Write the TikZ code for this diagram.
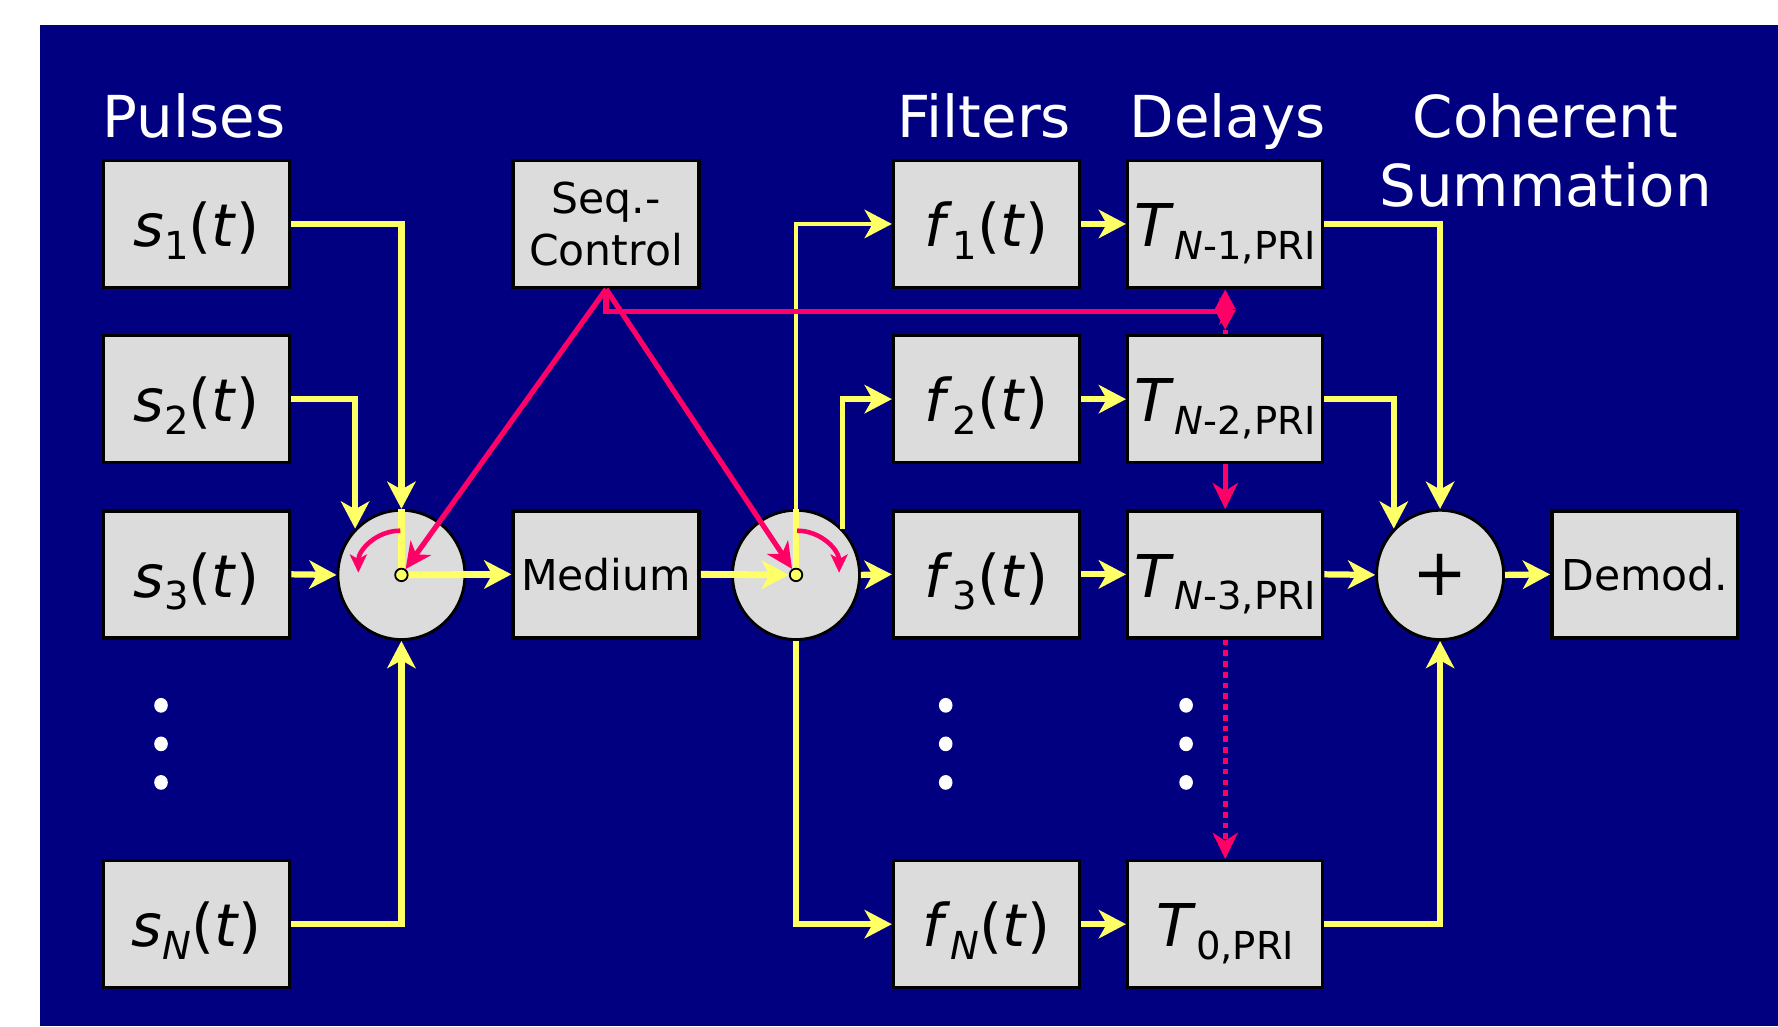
\documentclass[tikz,border=0pt]{standalone}
\usepackage{fontspec}
\setmainfont{DejaVu Sans}[ItalicFont={DejaVu Sans Oblique}]
\usetikzlibrary{arrows.meta,shapes.geometric}
\definecolor{bgblue}{RGB}{0,0,128}
\definecolor{ylw}{RGB}{255,255,102}
\definecolor{pnk}{RGB}{255,0,102}
\definecolor{boxgray}{RGB}{220,220,220}
\newcommand{\sbs}[1]{\raisebox{-0.22em}{\fontsize{34}{34}\selectfont #1}}
\tikzset{
  bbox/.style={draw=black, line width=3pt, fill=boxgray, minimum width=164pt, minimum height=112pt,
    inner sep=0pt, text=black},
  blk/.style={bbox, font=\fontsize{52}{52}\selectfont, text height=40pt, text depth=0pt},
  tblk/.style={blk, minimum width=172pt},
  wblk/.style={bbox, font=\fontsize{37.5}{46}\selectfont, align=center},
  junc/.style={ellipse, draw=black, line width=2.5pt, fill=boxgray, minimum width=112pt, minimum height=114pt,
    inner sep=0pt, font=\fontsize{58}{58}\selectfont},
  hub/.style={circle, draw=black, line width=1.6pt, fill=ylw, minimum size=11pt, inner sep=0pt},
  yl/.style={draw=ylw, line width=5.5pt},
  ya/.style={yl, -{Stealth[length=24pt,width=25pt,inset=7pt]}},
  rl/.style={draw=pnk, line width=4.6pt},
  ra/.style={rl, -{Stealth[length=23pt,width=22pt,inset=7pt]}},
  ttl/.style={text=white, font=\fontsize{51}{61}\selectfont, anchor=base, inner sep=0pt},
  vdot/.style={ellipse, fill=white, minimum width=12pt, minimum height=13pt, inner sep=0pt},
}
\begin{document}
\begin{tikzpicture}[x=1pt,y=-1pt]
\path[use as bounding box] (0,0) rectangle (1568,905);
\fill[bgblue] (35,22) rectangle (1568,905);

% titles
\node[ttl] (tp) at (171,121) {Pulses};
\node[ttl] (tf) at (868,121) {Filters};
\node[ttl] (td) at (1082.5,121) {Delays};
\node[ttl] (tc1) at (1363,121) {Coherent};
\node[ttl] (tc2) at (1363,182) {Summation};

% pulse boxes
\node[blk] (s1) at (173.5,197.5) {\textit{s}\sbs{1}(\textit{t})};
\node[blk] (s2) at (173.5,352) {\textit{s}\sbs{2}(\textit{t})};
\node[blk] (s3) at (173.5,506.5) {\textit{s}\sbs{3}(\textit{t})};
\node[blk] (sN) at (173.5,815) {\textit{s}\sbs{\textit{N}}(\textit{t})};

% control and medium
\node[wblk] (seq) at (534.5,197.5) {Seq.-\\Control};
\node[wblk] (med) at (534.5,506.5) {Medium};

% filters
\node[blk] (f1) at (870,197.5) {\textit{f}\sbs{1}(\textit{t})};
\node[blk] (f2) at (870,352) {\textit{f}\sbs{2}(\textit{t})};
\node[blk] (f3) at (870,506.5) {\textit{f}\sbs{3}(\textit{t})};
\node[blk] (fN) at (870,815) {\textit{f}\sbs{\textit{N}}(\textit{t})};

% delays
\node[tblk] (T1) at (1080.5,197.5) {\textit{T}\sbs{\textit{N}-1,PRI}};
\node[tblk] (T2) at (1080.5,352) {\textit{T}\sbs{\textit{N}-2,PRI}};
\node[tblk] (T3) at (1080.5,506.5) {\textit{T}\sbs{\textit{N}-3,PRI}};
\node[tblk] (T0) at (1080.5,815) {\textit{T}\sbs{0,PRI}};

% demod
\node[wblk] (dem) at (1450.5,506.5) {Demod.};

% junctions
\node[junc] (mux) at (354,507) {};
\node[junc] (dmx) at (702,507) {};
\node[junc] (sum) at (1270,507) {+};
\coordinate (c1) at (354,507);
\coordinate (c2) at (702,507);

% dots
\foreach \xx/\nm in {142/a,834/b,1046/c}{
  \node[vdot] (d\nm1) at (\xx,622) {};
  \node[vdot] (d\nm2) at (\xx,656) {};
  \node[vdot] (d\nm3) at (\xx,690) {};
}

% yellow connectors into the multiplexer
\draw[ya] (s1.east) -| (mux.north);
\draw[ya] (s2.east) -| (mux.135);
\draw[ya] (s3.east) -- (mux.west);
\draw[ya] (sN.east) -| (mux.south);
\draw[yl, line width=6pt] (c1) -- (mux.north);
\draw[ya, line width=6pt] (c1) -- (med.west);

% demultiplexer outputs
\draw[ya, line width=4pt] (dmx.north) |- (f1.west);
\draw[ya, line width=4.8pt] (dmx.45) |- (f2.west);
\draw[ya] (dmx.east) -- (f3.west);
\draw[ya, line width=4.8pt] (dmx.south) |- (fN.west);
\draw[yl, line width=6pt] (c2) -- (dmx.north);

% filters to delays
\draw[ya] (f1.east) -- (T1.west);
\draw[ya] (f2.east) -- (T2.west);
\draw[ya] (f3.east) -- (T3.west);
\draw[ya] (fN.east) -- (T0.west);

% delays to summation
\draw[ya] (T1.east) -| (sum.north);
\draw[ya] (T2.east) -| (sum.135);
\draw[ya] (T3.east) -- (sum.west);
\draw[ya] (T0.east) -| (sum.south);
\draw[ya] (sum.east) -- (dem.west);

% switch pins
\node[hub] (p1) at (c1) {};
\node[hub] (p2) at (c2) {};
\draw[ya, line width=6pt] (med.east) -- (p2.west);

% control arrows
\draw[ra] (seq.south) -- (p1);
\draw[ra] (seq.south) -- (p2);
\coordinate (jn) at (1089,274.5);
\coordinate (jd) at (1080.5,291);
\draw[rl, -{Stealth[length=14pt,width=24pt,inset=5pt]}] (seq.south) |- (jn);
\draw[rl, {Triangle[length=17.5pt,width=17pt]}-{Triangle[length=17.5pt,width=17pt]}] (jd) -- (T1.south);
\draw[rl] (jd) -- (T2.north);
\draw[ra] (T2.south) -- (T3.north);
\draw[ra, dash pattern=on 5pt off 4.5pt] (T3.south) -- (T0.north);

% rotation arrows inside the switches
\coordinate (ra1) at (353,468);
\coordinate (rb1) at (316,505);
\coordinate (ra2) at (703,468);
\coordinate (rb2) at (740,505);
\draw[rl, line width=4pt, -{Stealth[length=16pt,width=15pt,inset=4pt]}] (ra1) .. controls (332,468) and (316,485) .. (rb1);
\draw[rl, line width=4pt, -{Stealth[length=16pt,width=15pt,inset=4pt]}] (ra2) .. controls (724,468) and (740,485) .. (rb2);
\end{tikzpicture}
\end{document}
